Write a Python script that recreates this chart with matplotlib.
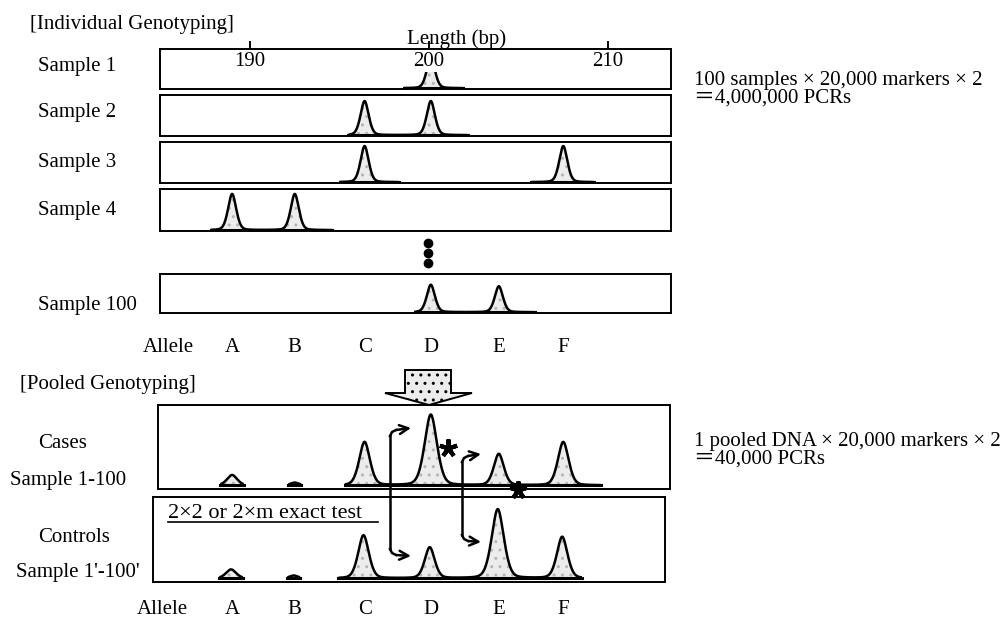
import numpy as np
import matplotlib.pyplot as plt
from matplotlib.patches import Polygon

plt.rcParams['font.family'] = ['Liberation Serif', 'DejaVu Serif']

W, H = 1004, 618

# allele sizes (bp) and the length axis ticks
alleles = ['A', 'B', 'C', 'D', 'E', 'F']
allele_bp = [189.0, 192.5, 196.4, 200.1, 203.9, 207.5]
bp_ticks = [190, 200, 210]

# individual genotyping: peaks (allele), relative height, trace extent in bp
sample_names = ['Sample 1', 'Sample 2', 'Sample 3', 'Sample 4', 'Sample 100']
sample_peaks = [['D'], ['C', 'D'], ['C', 'F'], ['A', 'B'], ['D', 'E']]
sample_heights = [[0.78], [0.85, 0.85], [0.9, 0.9], [0.88, 0.88], [0.72, 0.68]]
sample_traces = [[(198.6, 201.9)], [(195.5, 202.2)],
                 [(195.0, 198.3), (205.7, 209.2)], [(187.8, 194.6)],
                 [(199.2, 205.9)]]

# pooled genotyping: relative peak heights for A..F
cases_heights = [0.13, 0.035, 0.54, 0.88, 0.39, 0.54]
controls_heights = [0.11, 0.035, 0.53, 0.38, 0.85, 0.51]
cases_trace = (195.3, 209.6)
controls_trace = (195.0, 208.6)

fig = plt.figure(figsize=(W / 100, H / 100), dpi=100)


def px_axes(x0, y0, x1, y1, xl):
    ax = fig.add_axes([x0 / W, 1 - y1 / H, (x1 - x0) / W, (y1 - y0) / H])
    ax.set_xlim(xl, xl + (x1 - x0) / 17.9)
    ax.set_xticks([])
    ax.set_yticks([])
    for s in ax.spines.values():
        s.set_linewidth(1.4)
    return ax


def peak(x, mu, h, s):
    d = (x - mu) / s
    return h * (0.7 * np.exp(-0.5 * d ** 2) + 0.3 / (1 + 1.2 * d ** 2))


def draw_trace(ax, lo, hi, mus, hs, sig, fill=True):
    x = np.linspace(lo, hi, 600)
    y = np.zeros_like(x)
    for m, h in zip(mus, hs):
        s = sig(h) if callable(sig) else sig
        y += peak(x, m, h, s)
    if fill:
        ax.fill_between(x, 0, y, facecolor='#ececec', hatch='..',
                        edgecolor='#b5b5b5', linewidth=0)
    ax.plot(x, y, color='k', lw=1.8, solid_capstyle='butt')
    ax.plot([lo, hi], [0, 0], color='k', lw=2.2)


# ---- individual genotyping panels
box_y = [(49, 89), (95, 136), (142, 183), (189, 231), (274, 313)]
label_y = [67, 113, 163, 210, 305]
for i, name in enumerate(sample_names):
    ax = px_axes(160, box_y[i][0], 671, box_y[i][1], 184.97)
    ax.set_ylim(-0.02, 1)
    for lo, hi in sample_traces[i]:
        mus = [allele_bp[alleles.index(a)] for a in sample_peaks[i]]
        inside = [(m, h) for m, h in zip(mus, sample_heights[i]) if lo < m < hi]
        draw_trace(ax, lo, hi, [m for m, h in inside], [h for m, h in inside], 0.24)
    fig.text(38 / W, 1 - label_y[i] / H, name, fontsize=15, va='center')
    if i == 0:
        ax.set_xticks(bp_ticks)
        ax.set_xticklabels([])
        ax.tick_params(axis='x', top=True, bottom=False, direction='out',
                       length=6, width=1.4)
        for t in bp_ticks:
            ax.text(t, 0.68, str(t), fontsize=15, ha='center', va='center',
                    bbox=dict(facecolor='white', edgecolor='none', pad=0.5))
        ax.set_title('Length (bp)', fontsize=15, pad=1, x=(457 - 160) / 511)

# ---- pooled genotyping panels
sig_pool = lambda h: 0.24 + 0.14 * h
for (x0, y0, x1, y1, xl), hs, tr, ly, lab in [
        ((158, 405, 670, 489, 184.86), cases_heights, cases_trace, (444, 480), ('Cases', 'Sample 1-100')),
        ((153, 497, 665, 582, 184.64), controls_heights, controls_trace, (537, 573), ('Controls', "Sample 1'-100'"))]:
    ax = px_axes(x0, y0, x1, y1, xl)
    ax.set_ylim(-0.045, 1)
    # small humps for A and B
    for k in range(2):
        m = allele_bp[k]
        w = 0.65 if k == 0 else 0.35
        draw_trace(ax, m - w, m + w, [m], [hs[k]], 0.3 if k == 0 else 0.25, fill=k == 0)
    draw_trace(ax, tr[0], tr[1], allele_bp[2:], hs[2:], sig_pool)
    fig.text(38 / W, 1 - ly[0] / H, lab[0], fontsize=15, va='center')
    fig.text((10 if lab[0] == 'Cases' else 16) / W, 1 - ly[1] / H, lab[1], fontsize=15, va='center')

# ---- overlay in pixel coordinates
ov = fig.add_axes([0, 0, 1, 1], zorder=10)
ov.set_xlim(0, W)
ov.set_ylim(H, 0)
ov.axis('off')
ov.patch.set_alpha(0)

ov.text(30, 24, '[Individual Genotyping]', fontsize=15, va='center')
ov.text(20, 384, '[Pooled Genotyping]', fontsize=15, va='center')

# allele rows (placed on the length scale of the sample panels)
bp2px = lambda b: 160 + (b - 184.97) * 17.9
for yy, xa in [(348, 168), (610, 162)]:
    ov.text(xa, yy, 'Allele', fontsize=15, ha='center', va='center')
    for a, b in zip(alleles, allele_bp):
        ov.text(bp2px(b), yy, a, fontsize=15, ha='center', va='center')

# dots between sample 4 and sample 100
ov.plot([428, 428, 428], [243, 253, 263], 'o', color='k', ms=6)

# right side notes
cjk = ['Liberation Serif', 'Noto Sans CJK JP']
ov.text(694, 85, '100 samples × 20,000 markers × 2', fontsize=15, va='baseline', family=cjk)
ov.text(694, 103, '＝4,000,000 PCRs', fontsize=15, va='baseline', family=cjk)
ov.text(694, 446, '1 pooled DNA × 20,000 markers × 2', fontsize=15, va='baseline', family=cjk)
ov.text(694, 464, '＝40,000 PCRs', fontsize=15, va='baseline', family=cjk)

# big downward arrow
ov.add_patch(Polygon([(405, 370), (451, 370), (451, 393), (472, 393), (429, 405),
                      (385, 393), (405, 393)], closed=True, facecolor='#ececec',
                     edgecolor='k', lw=1.4, hatch='..'))

# exact test label
ov.text(168, 513, '2×2 or 2×m exact test', fontsize=16, va='center')
ov.plot([168, 378], [522, 522], color='k', lw=1.2)

# bent comparison arrows
for x, yt, yb, xe in [(390, 436, 549, 411), (462, 462, 535, 481)]:
    ov.plot([x, x], [yt, yb], color='k', lw=1.8)
    ov.plot([x, x + 2, x + 6], [yt, yt - 4, yt - 6], color='k', lw=1.8)
    ov.plot([x, x + 2, x + 6], [yb, yb + 4, yb + 6], color='k', lw=1.8)
    for y0, y1 in [(yt - 6, yt - 8), (yb + 6, yb + 7)]:
        ov.annotate('', xy=(xe, y1), xytext=(x + 6, y0),
                    arrowprops=dict(arrowstyle='->', lw=1.8, mutation_scale=16,
                                    shrinkA=0, shrinkB=0))

# significance marks
ov.plot([448, 518], [448, 490], marker=(5, 2, 0), ls='none', color='k', ms=13, mew=3)

fig.savefig('out.png', dpi=100)
